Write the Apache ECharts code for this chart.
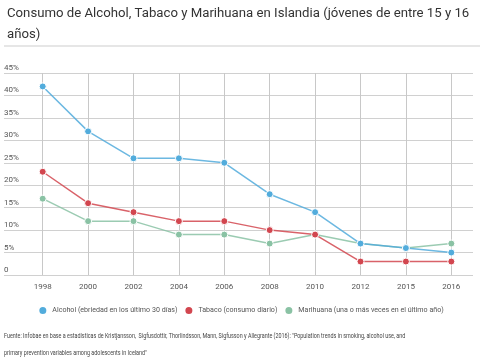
<!DOCTYPE html>
<html><head><meta charset="utf-8">
<script src="https://cdn.jsdelivr.net/npm/echarts@6/dist/echarts.min.js"></script>
<style>html,body{margin:0;padding:0;background:#fff}#c{width:481px;height:363px}</style>
</head><body><div id="c"></div>
<script>
const categories = ['1998','2000','2002','2004','2006','2008','2010','2012','2015','2016'];
const alcohol = [42, 32, 26, 26, 25, 18, 14, 7, 6, 5];
const tabaco = [23, 16, 14, 12, 12, 10, 9, 3, 3, 3];
const marihuana = [17, 12, 12, 9, 9, 7, 9, 7, 6, 7];
const seriesNames = ['Alcohol (ebriedad en los último 30 días)', 'Tabaco (consumo diario)', 'Marihuana (una o más veces en el último año)'];
const yTicks = [0, 5, 10, 15, 20, 25, 30, 35, 40, 45];
const titleText = 'Consumo de Alcohol, Tabaco y Marihuana en Islandia (jóvenes de entre 15 y 16\naños)';
const sourceLines = ['Fuente: Infobae en base a estadísticas de Kristjansson,  Sigfusdottir, Thorlindsson, Mann, Sigfusson y Allegrante (2016): "Population trends in smoking, alcohol use, and',
  'primary prevention variables among adolescents in Iceland"'];

const colors = ['#52acdc', '#d2464f', '#8ac2a4'];
const chart = echarts.init(document.getElementById('c'), null, {renderer: 'canvas'});
const mk = (name, data, i) => ({
  name, type: 'line', data, xAxisIndex: 1, yAxisIndex: 1,
  symbol: 'circle', symbolSize: 7, color: colors[i],
  lineStyle: {width: 1.5, color: colors[i], opacity: 0.85},
  itemStyle: {color: colors[i], borderColor: '#fff', borderWidth: 1},
  emphasis: {disabled: true}, z: 3 + (2 - i)
});
chart.setOption({
  animation: false,
  textStyle: {fontFamily: 'Roboto, sans-serif'},
  title: {text: titleText, left: 2, top: -2,
    textStyle: {fontSize: 13.2, fontWeight: 'normal', color: '#333', lineHeight: 21, fontFamily: 'Roboto, sans-serif'}},
  graphic: [
    {type: 'rect', shape: {x: 4, y: 45, width: 476, height: 2}, style: {fill: '#e6e6e6'}, silent: true},
    {type: 'text', x: 4, y: 333, scaleX: 0.82, style: {text: sourceLines[0], fontSize: 6.6, fill: '#444', fontFamily: 'Roboto, sans-serif'}},
    {type: 'text', x: 4, y: 350, scaleX: 0.82, style: {text: sourceLines[1], fontSize: 6.6, fill: '#444', fontFamily: 'Roboto, sans-serif'}}
  ],
  legend: {
    data: seriesNames, top: 300, left: 'center', icon: 'circle', itemWidth: 9, itemHeight: 9, itemGap: 6,
    textStyle: {fontSize: 7.1, color: '#555'}
  },
  grid: [
    {left: 4, right: 8, top: 73, bottom: 88},
    {left: 20, right: 7, top: 73, bottom: 88}
  ],
  xAxis: [
    {type: 'category', gridIndex: 0, data: categories, show: false},
    {type: 'category', gridIndex: 1, data: categories, boundaryGap: true,
      axisLine: {show: false}, axisTick: {show: false},
      axisLabel: {fontSize: 8, color: '#555', margin: 8},
      splitLine: {show: true, alignWithLabel: true, lineStyle: {color: '#c8c8c8', width: 1}}}
  ],
  yAxis: [
    {type: 'value', gridIndex: 0, min: 0, max: 45, interval: 5,
      axisLine: {show: false}, axisTick: {show: false},
      splitLine: {lineStyle: {color: '#d0d0d0', width: 1}},
      axisLabel: {inside: true, margin: 0, verticalAlign: 'bottom', align: 'left', padding: [0, 0, 1, 0], fontSize: 8, color: '#555',
        formatter: v => yTicks.includes(v) ? (v === 0 ? '0' : v + '%') : ''}},
    {type: 'value', gridIndex: 1, min: 0, max: 45, interval: 5, show: false, splitLine: {show: false}}
  ],
  series: [mk(seriesNames[0], alcohol, 0), mk(seriesNames[1], tabaco, 1), mk(seriesNames[2], marihuana, 2)]
});
</script></body></html>
